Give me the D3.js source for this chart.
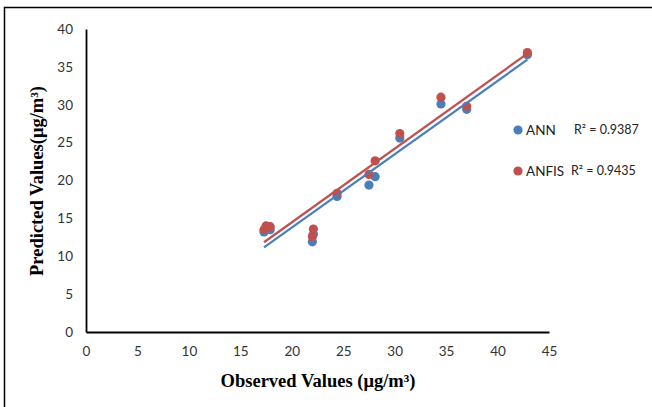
<!DOCTYPE html>
<html>
<head>
<meta charset="utf-8">
<script src="https://cdn.jsdelivr.net/npm/d3@7"></script>
<style>
  body { margin: 0; background: #fff; }
  svg text { font-family: Lato, "Open Sans", sans-serif; }
</style>
</head>
<body>
<div id="chart"></div>
<script>
// observed values (shared x for both models)
const observed = [17.3, 17.5, 17.9, 22.0, 22.1, 24.4, 27.5, 28.1, 30.5, 34.5, 37.0, 42.9];
const annPred = [13.2, 13.6, 13.5, 11.9, 12.9, 17.9, 19.4, 20.5, 25.6, 30.1, 29.4, 36.6];
const anfisPred = [13.5, 14.0, 13.9, 12.6, 13.6, 18.3, 20.8, 22.6, 26.2, 31.0, 29.8, 36.9];
const seriesNames = ["ANN", "ANFIS"];
const r2Labels = ["R\u00B2 = 0.9387", "R\u00B2 = 0.9435"];
const xTicks = [0, 5, 10, 15, 20, 25, 30, 35, 40, 45];
const yTicks = [0, 5, 10, 15, 20, 25, 30, 35, 40];

const colors = ["#4a7ebb", "#c0504d"];
const width = 652, height = 407;

const svg = d3.select("#chart").append("svg")
    .attr("width", width)
    .attr("height", height);

// outer frame
svg.append("rect")
    .attr("x", 4.5).attr("y", 7.5)
    .attr("width", 660).attr("height", 420)
    .attr("fill", "none").attr("stroke", "#000").attr("stroke-width", 1.5);

const x = d3.scaleLinear().domain([0, 45]).range([86, 549]);
const y = d3.scaleLinear().domain([0, 40]).range([332, 29]);

// axes (just lines, no tick marks)
const xAxis = svg.append("g").attr("transform", `translate(0,${y(0)})`)
    .call(d3.axisBottom(x).tickValues(xTicks).tickSize(0).tickPadding(14));
const yAxis = svg.append("g").attr("transform", `translate(${x(0)},0)`)
    .call(d3.axisLeft(y).tickValues(yTicks).tickSize(0).tickPadding(13));

[xAxis, yAxis].forEach(a => {
    a.select(".domain").attr("stroke", "#000").attr("stroke-width", 1.8);
    a.selectAll("text").attr("font-size", 13.5).attr("fill", "#333")
        .attr("font-family", "Lato, 'Open Sans', sans-serif");
});

// simple least squares for the trendlines
function fit(xs, ys) {
    const mx = d3.mean(xs), my = d3.mean(ys);
    let sxy = 0, sxx = 0;
    xs.forEach((v, i) => { sxy += (v - mx) * (ys[i] - my); sxx += (v - mx) * (v - mx); });
    const b = sxy / sxx;
    return { b: b, a: my - b * mx };
}

const preds = [annPred, anfisPred];
const xMin = d3.min(observed), xMax = d3.max(observed);

// points first, lines on top like excel does
preds.forEach((p, k) => {
    svg.append("g").selectAll("circle")
        .data(observed.map((o, i) => [o, p[i]]))
        .join("circle")
        .attr("cx", d => x(d[0]))
        .attr("cy", d => y(d[1]))
        .attr("r", 4.6)
        .attr("fill", colors[k]);
});

preds.forEach((p, k) => {
    const f = fit(observed, p);
    svg.append("line")
        .attr("x1", x(xMin)).attr("y1", y(f.a + f.b * xMin))
        .attr("x2", x(xMax)).attr("y2", y(f.a + f.b * xMax))
        .attr("stroke", colors[k]).attr("stroke-width", 2.2);
});

// legend
const legend = svg.append("g");
seriesNames.forEach((name, k) => {
    const ly = 130 + k * 41;
    legend.append("circle").attr("cx", 518).attr("cy", ly).attr("r", 4.6).attr("fill", colors[k]);
    legend.append("text").attr("x", 526).attr("y", ly + 5)
        .attr("font-size", 13.5).attr("fill", "#222").text(name);
    legend.append("text").attr("x", k === 0 ? 574 : 571).attr("y", ly + 4)
        .attr("font-size", 12.5).attr("fill", "#222").text(r2Labels[k]);
});

// axis titles
svg.append("text")
    .attr("x", 318).attr("y", 387)
    .attr("text-anchor", "middle")
    .attr("font-weight", "bold").attr("font-size", 18.5)
    .style("font-family", "'Liberation Serif', serif")
    .text("Observed Values (\u03BCg/m\u00B3)");

svg.append("text")
    .attr("transform", "translate(43,181) rotate(-90)")
    .attr("text-anchor", "middle")
    .attr("font-weight", "bold").attr("font-size", 18.5)
    .style("font-family", "'Liberation Serif', serif")
    .text("Predicted Values(\u03BCg/m\u00B3)");
</script>
</body>
</html>
